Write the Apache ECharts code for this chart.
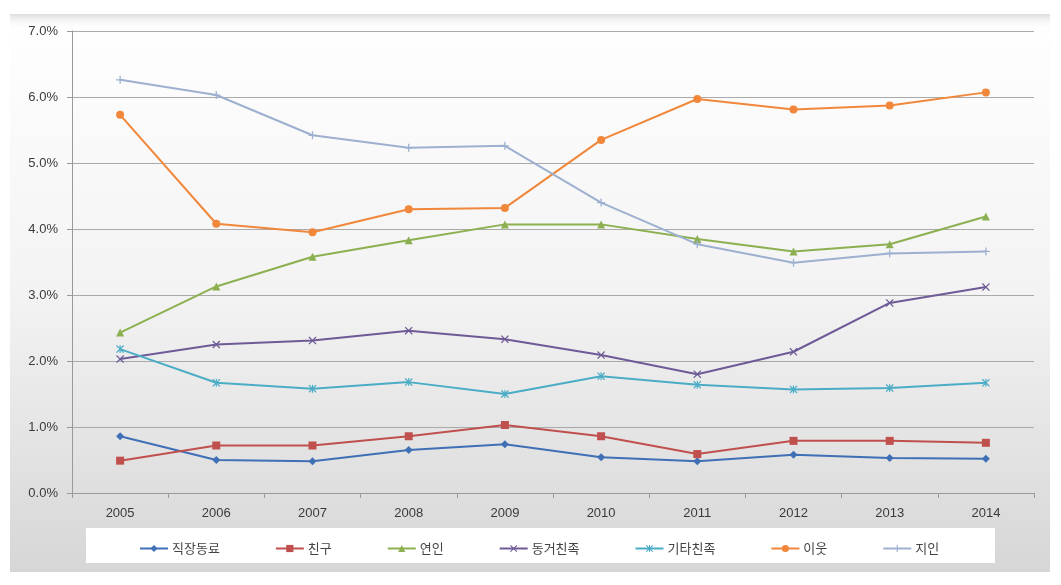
<!DOCTYPE html>
<html><head><meta charset="utf-8">
<script src="https://cdn.jsdelivr.net/npm/echarts@6/dist/echarts.min.js"></script>
<style>html,body{margin:0;padding:0;background:#fff}#c{width:1061px;height:585px}</style>
</head><body><div id="c"></div>
<script>
const years = ['2005','2006','2007','2008','2009','2010','2011','2012','2013','2014'];
const yTicks = [0,1,2,3,4,5,6,7];
const coworker = [0.86,0.50,0.48,0.65,0.74,0.54,0.48,0.58,0.53,0.52];
const friend = [0.49,0.72,0.72,0.86,1.03,0.86,0.59,0.79,0.79,0.76];
const lover = [2.43,3.13,3.58,3.83,4.07,4.07,3.85,3.66,3.77,4.19];
const coresKin = [2.03,2.25,2.31,2.46,2.33,2.09,1.80,2.14,2.88,3.12];
const otherKin = [2.18,1.67,1.58,1.68,1.50,1.77,1.64,1.57,1.59,1.67];
const neighbor = [5.73,4.08,3.95,4.30,4.32,5.35,5.97,5.81,5.87,6.07];
const acquaint = [6.26,6.03,5.42,5.23,5.26,4.40,3.77,3.49,3.63,3.66];
const names = ['직장동료','친구','연인','동거친족','기타친족','이웃','지인'];

const PLUS = 'path://M4.2,0H5.8V4.2H10V5.8H5.8V10H4.2V5.8H0V4.2H4.2Z';
const XMARK = 'path://M1.1,0L5,3.9L8.9,0L10,1.1L6.1,5L10,8.9L8.9,10L5,6.1L1.1,10L0,8.9L3.9,5L0,1.1Z';
const STAR = 'path://M1.1,0L5,3.9L8.9,0L10,1.1L6.1,5L10,8.9L8.9,10L5,6.1L1.1,10L0,8.9L3.9,5L0,1.1Z M4.3,0H5.7V10H4.3Z';

const cfg = [
  [coworker,'#3f6fb5','diamond',8],
  [friend,'#c0504d','rect',8],
  [lover,'#8cb050','triangle',8],
  [coresKin,'#6e5a96',XMARK,8],
  [otherKin,'#4bacc6',STAR,8],
  [neighbor,'#f0873a','circle',8],
  [acquaint,'#9db0cf',PLUS,8]
];

const chart = echarts.init(document.getElementById('c'), null, {renderer:'canvas'});
chart.setOption({
  animation:false,
  textStyle:{fontFamily:'Liberation Sans, Arial, "Noto Sans CJK KR", sans-serif'},
  graphic:[
    {type:'rect', z:-10, shape:{x:10,y:14,width:1040,height:558},
     style:{fill:new echarts.graphic.LinearGradient(0,0,0,1,[{offset:0,color:'#ffffff'},{offset:0.5,color:'#f3f3f3'},{offset:1,color:'#d6d6d6'}])}},
    {type:'rect', z:-9, shape:{x:10,y:14,width:1040,height:16},
     style:{fill:new echarts.graphic.LinearGradient(0,0,0,1,[{offset:0,color:'#dedede'},{offset:1,color:'rgba(255,255,255,0)'}])}},
    {type:'rect', z:-5, shape:{x:86,y:528,width:909,height:35},
     style:{fill:'#ffffff'}}
  ],
  grid:{left:72,right:27,top:31,bottom:92,containLabel:false},
  legend:{
    data:names, left:134, top:537, itemGap:55, itemWidth:28, itemHeight:9,
    textStyle:{fontSize:13,color:'#444',padding:[0,0,0,-1],fontFamily:'"Noto Sans CJK KR", sans-serif'}
  },
  xAxis:{type:'category', data:years, boundaryGap:true,
    axisLine:{lineStyle:{color:'#999'}},
    axisTick:{show:true,length:5,lineStyle:{color:'#999'}},
    axisLabel:{fontSize:13,color:'#3a3a3a',margin:14}
  },
  yAxis:{type:'value', min:0, max:7, interval:1,
    axisLine:{show:true,lineStyle:{color:'#999'}},
    axisTick:{show:true,length:5,lineStyle:{color:'#999'}},
    splitLine:{lineStyle:{color:'#aaaaaa'}},
    axisLabel:{fontSize:13,color:'#3a3a3a',margin:14,formatter:v=>v.toFixed(1)+'%'}
  },
  series:cfg.map((c,i)=>({
    name:names[i], type:'line', data:c[0], symbol:c[2], symbolSize:c[3],
    showAllSymbol:true,
    lineStyle:{width:2,color:c[1]}, itemStyle:{color:c[1]}
  }))
});
</script></body></html>
